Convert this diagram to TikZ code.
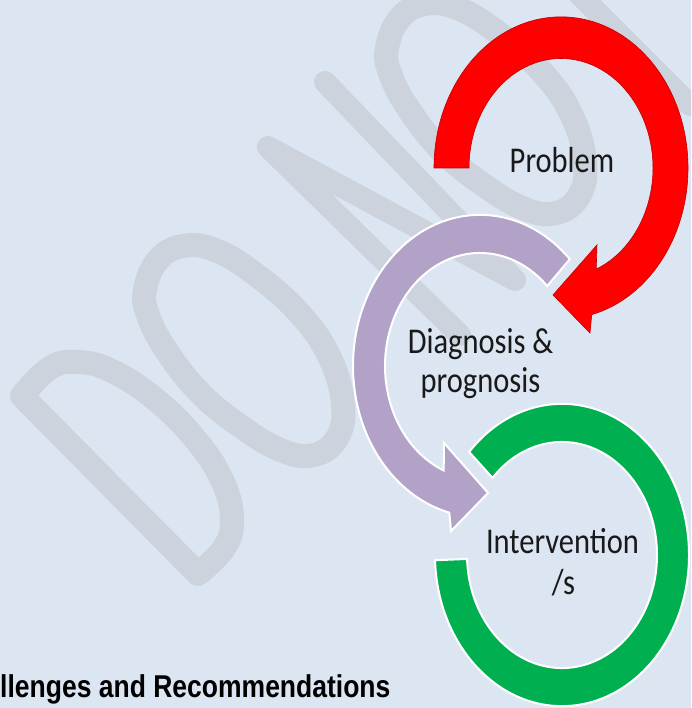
\documentclass[tikz,border=0pt]{standalone}
\usepackage{fontspec}
\setmainfont{Carlito}
\newfontfamily\rchead{Liberation Sans}
\definecolor{bg}{HTML}{DCE6F2}
\definecolor{wmgray}{HTML}{CCD3DC}
\definecolor{arrowred}{HTML}{FF0000}
\definecolor{arrowpurple}{HTML}{B2A2C7}
\definecolor{arrowgreen}{HTML}{00B050}
\begin{document}
\begin{tikzpicture}[x=1pt,y=-1pt,
  wm/.style={draw=wmgray, line width=24pt, line join=round, line cap=round},
  ringred/.style={fill=arrowred, draw=red!75!black, line width=0.6pt},
  ringpurple/.style={fill=arrowpurple, draw=white, line width=2pt},
  ringgreen/.style={fill=arrowgreen, draw=white, line width=2pt},
  lbl/.style={font=\fontsize{30.5}{36}\selectfont, text=black!90, inner sep=0pt, anchor=base, yscale=1.19},
  heading/.style={font=\rchead\bfseries\fontsize{26.5}{32}\selectfont, inner sep=0pt, anchor=base west, yscale=1.19}]

% page and background
\fill[bg] (0,0) rectangle (691,708);
\useasboundingbox (0,0) rectangle (691,708);
\clip (0,0) rectangle (691,708);

% watermark letters
\draw[wm] plot[smooth, tension=0.7] coordinates {(22,396) (50,368) (78,362) (112,371) (155,399) (196,440) (223,482) (232,520) (224,548) (198,574)} -- cycle;
\draw[wm] plot[smooth cycle, tension=0.7] coordinates {(145,290) (158,260) (183,246) (215,250) (255,274) (300,314) (330,358) (343,405) (337,438) (314,455) (283,451) (243,428) (200,393) (166,350) (148,315)};
\draw[wm, line width=22pt] (460,335) -- (268,147) -- (515,280) -- (325,82);
\begin{scope}[shift={(242,-242)}]
\draw[wm] plot[smooth cycle, tension=0.7] coordinates {(145,290) (158,260) (183,246) (215,250) (255,274) (300,314) (330,358) (343,405) (337,438) (314,455) (283,451) (243,428) (200,393) (166,350) (148,315)};
\end{scope}
\draw[wm, line width=22pt] (490,-95) -- (690,105);

% red circular arrow
\begin{scope}[shift={(561,168)}, yscale=1.19]
  \path[ringred] (180:127) arc[start angle=180, end angle=436, radius=127]
    -- (78.2:141.7) -- (94.3:107) -- (60.9:74) -- (67.5:92)
    arc[start angle=427.5, end angle=180, radius=92] -- cycle;
\end{scope}

% purple circular arrow
\begin{scope}[shift={(480,366)}, yscale=1.19]
  \path[ringpurple] (315:127) arc[start angle=315, end angle=104, radius=127]
    -- (101.8:141.7) -- (85.7:107) -- (119.1:74) -- (112.5:95)
    arc[start angle=112.5, end angle=315, radius=95] -- cycle;
\end{scope}

% green block arc
\begin{scope}[shift={(562,555)}, yscale=1.19]
  \path[ringgreen] (178:127) arc[start angle=178, end angle=-137, radius=127]
    -- (-137:95) arc[start angle=-137, end angle=178, radius=95] -- cycle;
\end{scope}

% labels
\node[lbl] (prob) at (562,173) {Problem};
\node[lbl] (diag) at (480.5,353) {Diagnosis \&};
\node[lbl] (progn) at (480.5,392) {prognosis};
\node[lbl] (interv) at (562.5,553) {Intervention};
\node[lbl] (slash) at (563.5,594) {/s};
\node[heading] (rec) at (0,697) {llenges and Recommendations};
\end{tikzpicture}
\end{document}
